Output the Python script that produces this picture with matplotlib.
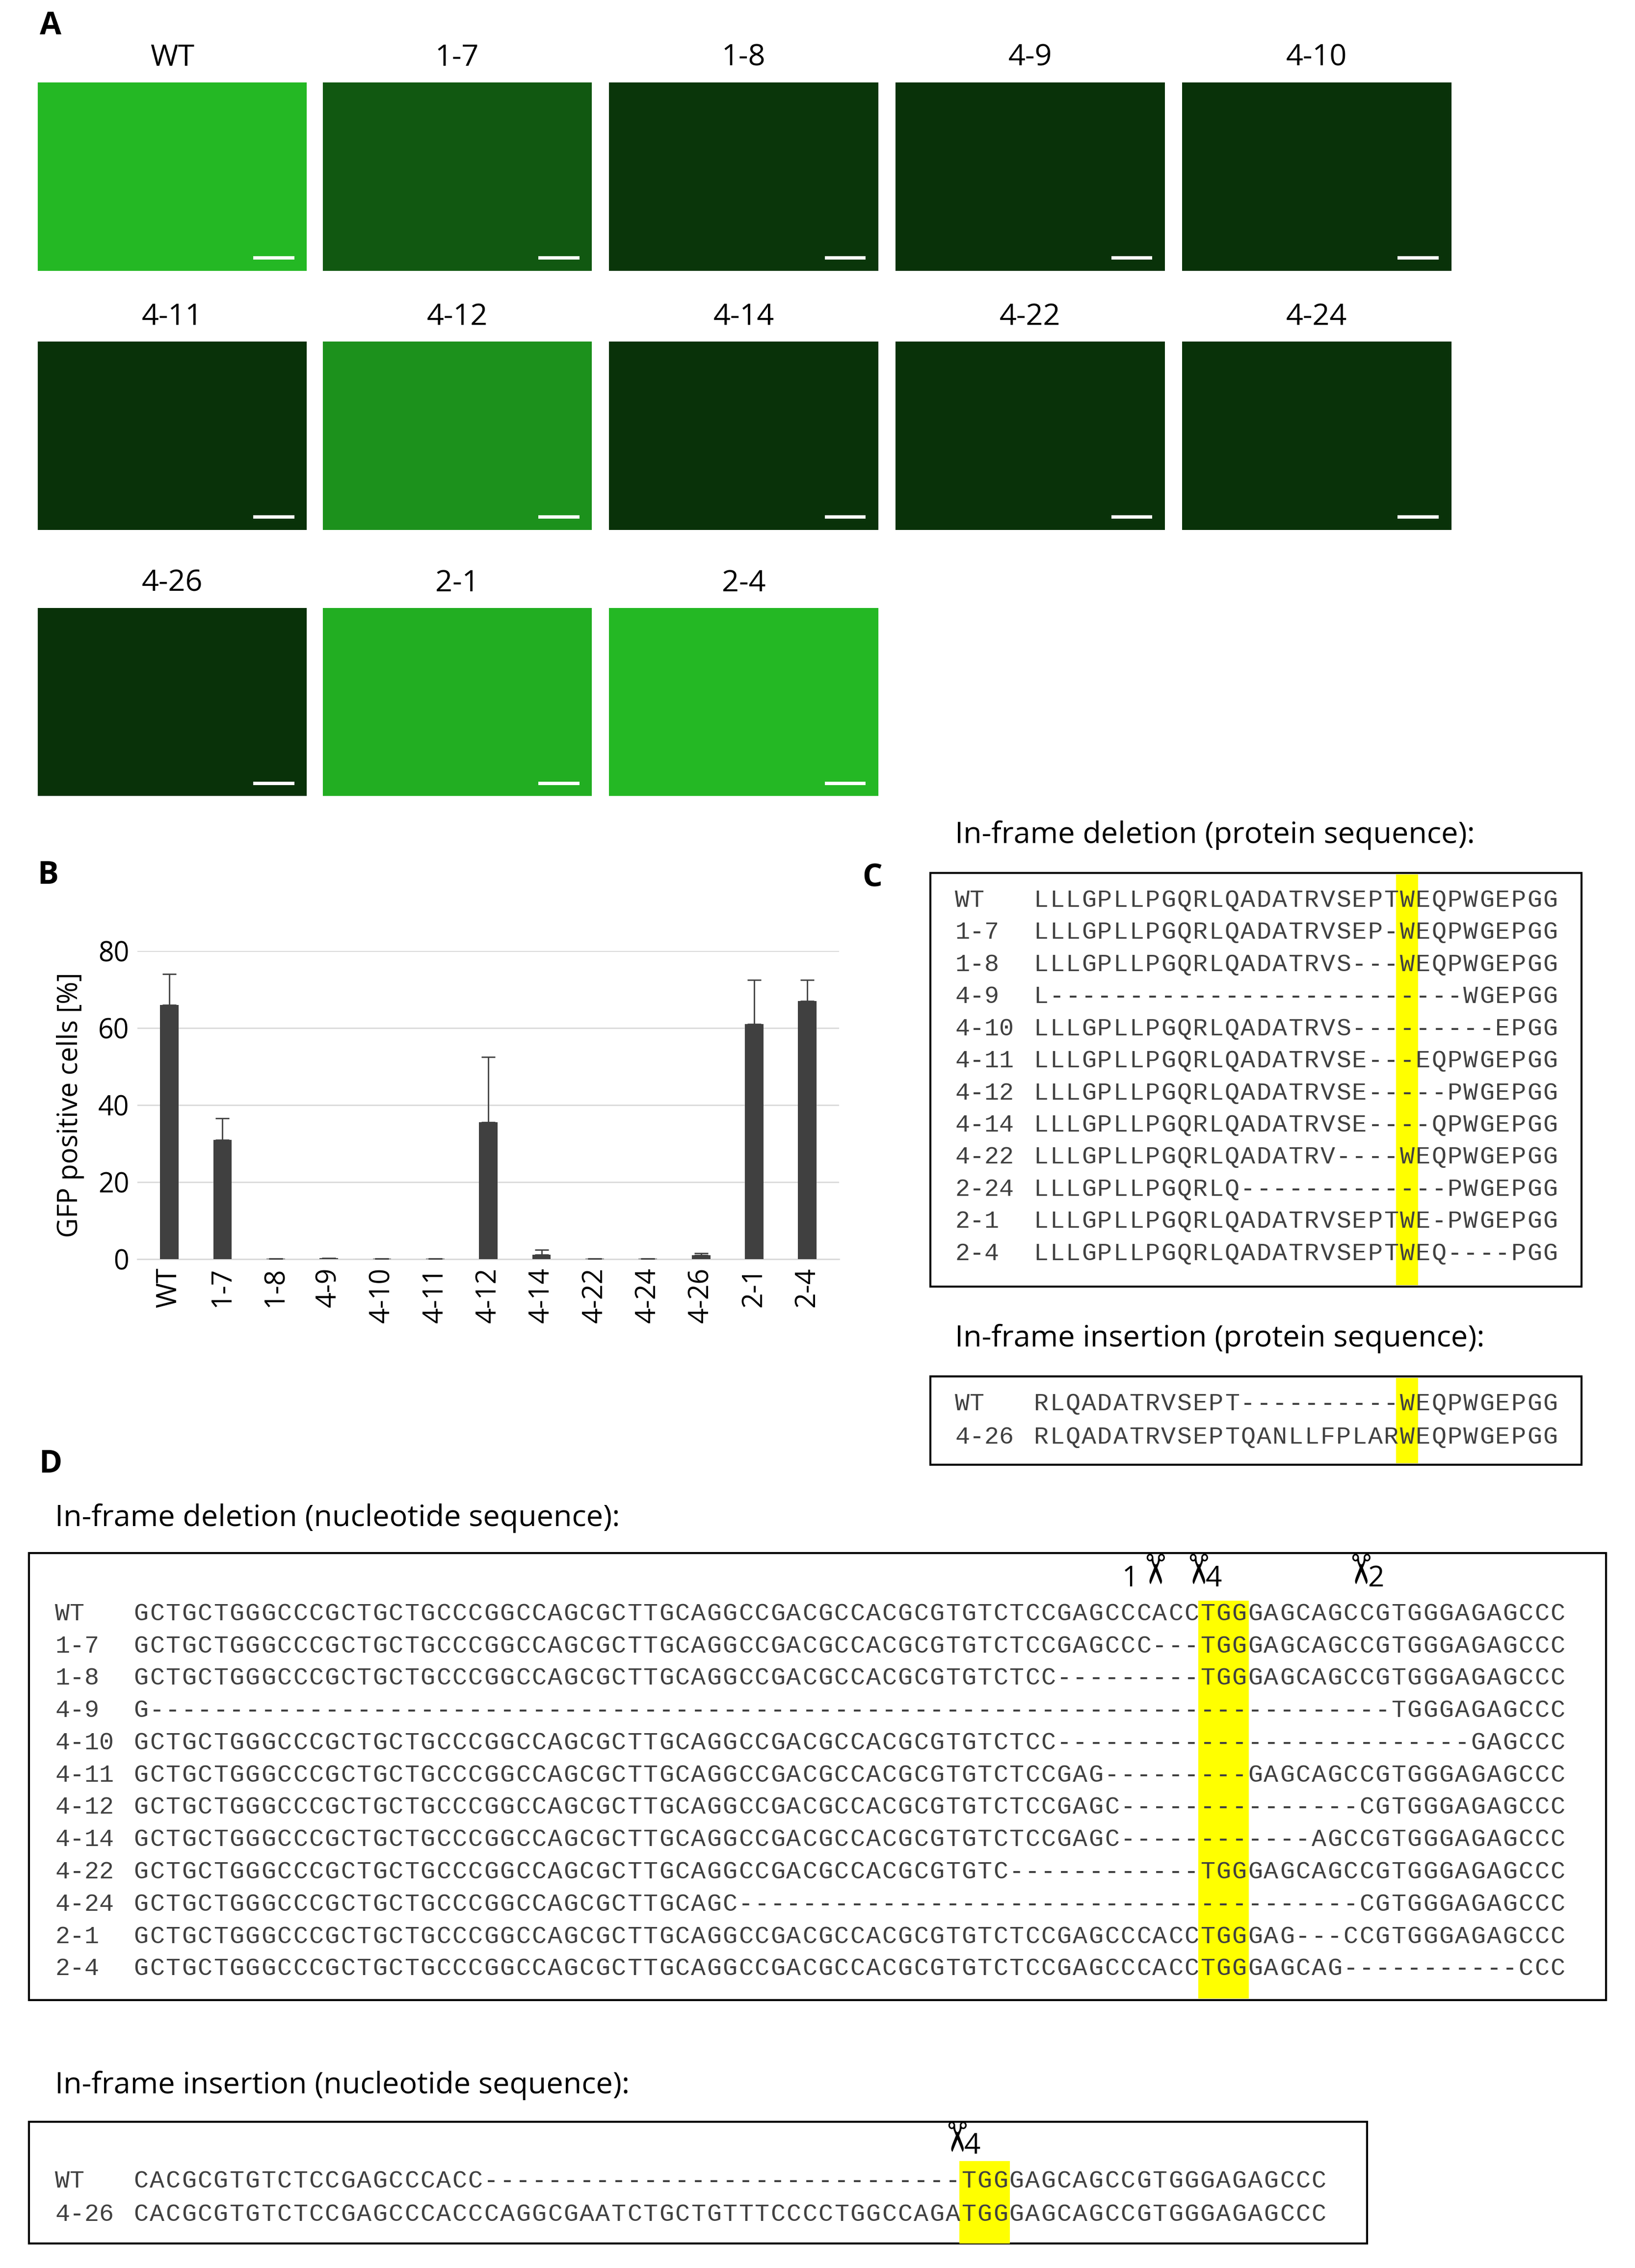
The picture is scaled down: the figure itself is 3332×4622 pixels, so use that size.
import matplotlib
matplotlib.use("Agg")
import matplotlib.pyplot as plt
from matplotlib.patches import Rectangle

# ---- data ----
img_names = ["WT", "1-7", "1-8", "4-9", "4-10", "4-11", "4-12", "4-14", "4-22", "4-24", "4-26", "2-1", "2-4"]
img_brightness = [0.8, 0.3, 0.12, 0.1, 0.1, 0.1, 0.6, 0.1, 0.1, 0.1, 0.1, 0.75, 0.8]

bar_labels = ["WT", "1-7", "1-8", "4-9", "4-10", "4-11", "4-12", "4-14", "4-22", "4-24", "4-26", "2-1", "2-4"]
bar_values = [66, 31, 0.2, 0.3, 0.2, 0.2, 35.5, 1.2, 0.1, 0.2, 1.0, 61, 67]
bar_errors = [8, 5.5, 0, 0, 0, 0, 17, 1.3, 0, 0, 0.5, 11.5, 5.5]

prot_del_labels = ["WT", "1-7", "1-8", "4-9", "4-10", "4-11", "4-12", "4-14", "4-22", "2-24", "2-1", "2-4"]
prot_del_seqs = [
    "LLLGPLLPGQRLQADATRVSEPTWEQPWGEPGG",
    "LLLGPLLPGQRLQADATRVSEP-WEQPWGEPGG",
    "LLLGPLLPGQRLQADATRVS---WEQPWGEPGG",
    "L" + "-" * 26 + "WGEPGG",
    "LLLGPLLPGQRLQADATRVS" + "-" * 9 + "EPGG",
    "LLLGPLLPGQRLQADATRVSE---EQPWGEPGG",
    "LLLGPLLPGQRLQADATRVSE-----PWGEPGG",
    "LLLGPLLPGQRLQADATRVSE----QPWGEPGG",
    "LLLGPLLPGQRLQADATRV----WEQPWGEPGG",
    "LLLGPLLPGQRLQ" + "-" * 13 + "PWGEPGG",
    "LLLGPLLPGQRLQADATRVSEPTWE-PWGEPGG",
    "LLLGPLLPGQRLQADATRVSEPTWEQ----PGG",
]
prot_ins_labels = ["WT", "4-26"]
prot_ins_seqs = ["RLQADATRVSEPT" + "-" * 10 + "WEQPWGEPGG",
                 "RLQADATRVSEPTQANLLFPLARWEQPWGEPGG"]

wt_head = "GCTGCTGGGCCCGCTGCTGCCCGGCCAGCGCTTGCAGGCCGACGCCACGCGTGTCTCCGAGCCCACC"
tail = "GAGCAGCCGTGGGAGAGCCC"
nuc_del_labels = ["WT", "1-7", "1-8", "4-9", "4-10", "4-11", "4-12", "4-14", "4-22", "4-24", "2-1", "2-4"]
nuc_del_seqs = [
    wt_head + "TGG" + tail,
    wt_head[:64] + "---" + "TGG" + tail,
    wt_head[:58] + "-" * 9 + "TGG" + tail,
    "G" + "-" * 78 + "TGGGAGAGCCC",
    wt_head[:58] + "-" * 26 + "GAGCCC",
    wt_head[:61] + "-" * 9 + tail,
    wt_head[:62] + "-" * 15 + "CGTGGGAGAGCCC",
    wt_head[:62] + "-" * 12 + "AGCCGTGGGAGAGCCC",
    wt_head[:55] + "-" * 12 + "TGG" + tail,
    "GCTGCTGGGCCCGCTGCTGCCCGGCCAGCGCTTGCAGC" + "-" * 39 + "CGTGGGAGAGCCC",
    wt_head + "TGGGAG---CCGTGGGAGAGCCC",
    wt_head + "TGGGAGCAG" + "-" * 11 + "CCC",
]
nuc_ins_labels = ["WT", "4-26"]
nuc_ins_seqs = ["CACGCGTGTCTCCGAGCCCACC" + "-" * 30 + "TGGGAGCAGCCGTGGGAGAGCCC",
                "CACGCGTGTCTCCGAGCCCACCCAGGCGAATCTGCTGTTTCCCCTGGCCAGATGGGAGCAGCCGTGGGAGAGCCC"]

W, H = 1130, 1567  # layout units (reference at reduced scale)
fig = plt.figure(figsize=(33.32, 46.22), dpi=100)
ov = fig.add_axes([0, 0, 1, 1])
ov.set_xlim(0, W)
ov.set_ylim(H, 0)
ov.axis("off")

sans = ["Open Sans", "DejaVu Sans"]
mono = "Liberation Mono"
lab_fs = 46
title_fs = 44
seq_fs = 36
seq_col = "#404040"

# ---- panel A ----
ov.text(35, 18, "A", fontsize=lab_fs, fontweight="bold", family=sans, ha="center", va="center")
col_x = [26, 223, 421, 619, 817]
row_y = [57, 236, 420]
for i, (name, b) in enumerate(zip(img_names, img_brightness)):
    r, c = divmod(i, 5)
    x0, y0 = col_x[c], row_y[r]
    color = (0.02 + 0.15 * b, 0.12 + 0.75 * b, 0.02 + 0.15 * b)
    ov.add_patch(Rectangle((x0, y0), 186, 130, facecolor=color, edgecolor="none"))
    ov.plot([x0 + 150, x0 + 176], [y0 + 121, y0 + 121], color="white", lw=5)
    ov.text(x0 + 93, y0 - 17, name, fontsize=title_fs, family=sans, ha="center", va="center")

# ---- panel B ----
ov.text(33, 605, "B", fontsize=lab_fs, fontweight="bold", family=sans, ha="center", va="center")
axb = fig.add_axes([95 / W, 1 - 870 / H, 485 / W, 213 / H])
xs = range(len(bar_values))
axb.bar(xs, bar_values, width=0.35, color="#404040", zorder=3)
axb.errorbar(xs, bar_values, yerr=[[0] * len(bar_errors), bar_errors], fmt="none",
             ecolor="#404040", capsize=10, elinewidth=2, capthick=2, zorder=3)
axb.set_ylim(0, 80)
axb.set_xlim(-0.6, len(bar_values) - 0.4)
axb.set_yticks([0, 20, 40, 60, 80])
axb.grid(axis="y", color="#d9d9d9", lw=2, zorder=0)
for s in ["top", "right", "left"]:
    axb.spines[s].set_visible(False)
axb.spines["bottom"].set_color("#d9d9d9")
axb.spines["bottom"].set_linewidth(2)
axb.tick_params(length=0, labelsize=40, pad=12)
axb.set_xticks(list(xs))
axb.set_xticklabels(bar_labels, rotation=90, family=sans)
for t in axb.get_yticklabels():
    t.set_family(sans)
axb.set_ylabel("GFP positive cells [%]", fontsize=40, family=sans, labelpad=20)


def seq_rows(x_lab, x_seq, y0, dy, cw, labels, seqs):
    for i, (lab, seq) in enumerate(zip(labels, seqs)):
        y = y0 + i * dy
        ov.text(x_lab, y, lab, fontsize=seq_fs, family=mono, color=seq_col, va="center")
        for j, ch in enumerate(seq):
            ov.text(x_seq + j * cw + cw / 2, y, ch, fontsize=seq_fs, family=mono,
                    color=seq_col, va="center", ha="center")


# ---- panel C ----
cw = 11.0
ov.text(603, 607, "C", fontsize=lab_fs, fontweight="bold", family=sans, ha="center", va="center")
ov.text(660, 577, "In-frame deletion (protein sequence):", fontsize=title_fs, family=sans, va="center")
ov.add_patch(Rectangle((643, 603), 450, 286, facecolor="none", edgecolor="black", lw=3))
ov.add_patch(Rectangle((714 + 23 * cw - 2, 604), cw + 4, 284, facecolor="#ffff00", edgecolor="none"))
seq_rows(660, 714, 622, 22.2, cw, prot_del_labels, prot_del_seqs)

ov.text(660, 925, "In-frame insertion (protein sequence):", fontsize=title_fs, family=sans, va="center")
ov.add_patch(Rectangle((643, 951), 450, 61, facecolor="none", edgecolor="black", lw=3))
ov.add_patch(Rectangle((714 + 23 * cw - 2, 952), cw + 4, 59, facecolor="#ffff00", edgecolor="none"))
seq_rows(660, 714, 970, 23, cw, prot_ins_labels, prot_ins_seqs)

# ---- panel D ----
nw = 11.0
nx = 92
ov.text(35, 1012, "D", fontsize=lab_fs, fontweight="bold", family=sans, ha="center", va="center")
ov.text(38, 1049, "In-frame deletion (nucleotide sequence):", fontsize=title_fs, family=sans, va="center")
ov.add_patch(Rectangle((20, 1073), 1090, 309, facecolor="none", edgecolor="black", lw=3))
ov.add_patch(Rectangle((nx + 67 * nw - 1, 1106), 3 * nw + 2, 275, facecolor="#ffff00", edgecolor="none"))
seq_rows(38, nx, 1115, 22.3, nw, nuc_del_labels, nuc_del_seqs)


def scissor(x, y, num, side):
    ov.text(x, y, "\u2702", fontsize=60, fontweight="bold", family="DejaVu Sans",
            rotation=-90, ha="center", va="center")
    ov.text(x + (-14 if side == "l" else 14), y + 6, num, fontsize=42, family=sans, ha="center", va="center")


scissor(795, 1085, "1", "l")
scissor(825, 1085, "4", "r")
scissor(937, 1085, "2", "r")

ov.text(38, 1441, "In-frame insertion (nucleotide sequence):", fontsize=title_fs, family=sans, va="center")
ov.add_patch(Rectangle((20, 1466), 925, 84, facecolor="none", edgecolor="black", lw=3))
ov.add_patch(Rectangle((nx + 52 * nw - 1, 1493), 3 * nw + 2, 57, facecolor="#ffff00", edgecolor="none"))
seq_rows(38, nx, 1507, 23, nw, nuc_ins_labels, nuc_ins_seqs)
scissor(658, 1477, "4", "r")

fig.savefig("out.png", dpi=100, facecolor="white")
